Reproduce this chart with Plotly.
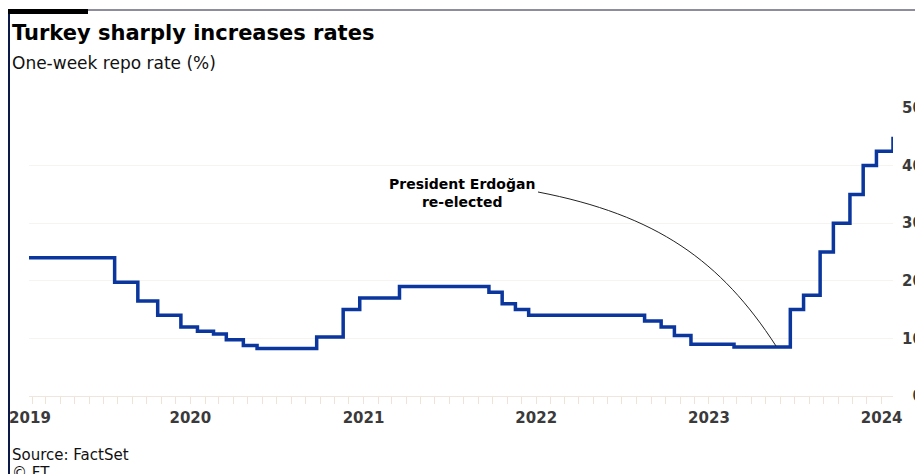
import plotly.graph_objects as go

# ---- data: one-week repo rate (%) at each decision date ----
dates = ["2019-01-25", "2019-07-25", "2019-09-12", "2019-10-24", "2019-12-12",
         "2020-01-16", "2020-02-19", "2020-03-17", "2020-04-22", "2020-05-21",
         "2020-09-24", "2020-11-19", "2020-12-24", "2021-03-18", "2021-09-23",
         "2021-10-21", "2021-11-18", "2021-12-16", "2022-08-18", "2022-09-22",
         "2022-10-20", "2022-11-24", "2023-02-23", "2023-06-22", "2023-07-20",
         "2023-08-24", "2023-09-21", "2023-10-26", "2023-11-23", "2023-12-21",
         "2024-01-25"]
rates = [24, 19.75, 16.5, 14, 12,
         11.25, 10.75, 9.75, 8.75, 8.25,
         10.25, 15, 17, 19, 18,
         16, 15, 14, 13, 12,
         10.5, 9, 8.5, 15, 17.5,
         25, 30, 35, 40, 42.5,
         45]
year_tickvals = ["2019-01-27", "2020-01-01", "2021-01-01", "2022-01-01", "2023-01-01", "2024-01-01"]
year_ticktext = ["2019", "2020", "2021", "2022", "2023", "2024"]
y_tickvals = [0, 10, 20, 30, 40, 50]
y_ticktext = ["\u20070", "10", "20", "30", "40", "50"]

# page draws the figure 8px in from the window corner
OFF = 8
W, H = 923 - OFF, 474 - OFF
# plot area in window pixels
SL, SR, ST, SB = 29, 893, 108, 396
L, R, T, B = SL - OFF, SR - OFF, ST - OFF, SB - OFF


def px(x):
    return (x - SL) / (SR - SL)


def py(y):
    return (SB - y) / (SB - ST)


FONT = "DejaVu Sans"

fig = go.Figure()
fig.add_trace(go.Scatter(
    x=dates, y=rates, mode="lines", line_shape="hv",
    line=dict(color="#0a369d", width=3.5), hoverinfo="x+y", showlegend=False))

tick_font = dict(family=FONT, size=15, color="#3a3a3a", weight=700)

fig.update_layout(
    template="none",
    width=W, height=H,
    margin=dict(l=L, r=W - R, t=T, b=H - B, pad=0, autoexpand=False),
    paper_bgcolor="white", plot_bgcolor="white",
    xaxis=dict(
        type="date", range=["2019-01-25", "2024-01-25"], automargin=False,
        tickvals=year_tickvals, ticktext=year_ticktext,
        ticks="", showgrid=False, zeroline=False,
        showline=True, linecolor="#f0e6de", linewidth=1,
        tickfont=tick_font, ticklabelstandoff=8,
        minor=dict(dtick="M1", tick0="2019-01-01", ticks="outside",
                   ticklen=7, tickcolor="#efe2d8", tickwidth=1, showgrid=False),
    ),
    yaxis=dict(
        side="right", range=[0, 50], automargin=False,
        tickvals=y_tickvals, ticktext=y_ticktext,
        showgrid=True, gridcolor="#f6f3f0", gridwidth=1,
        zeroline=False, showline=False,
        ticks="outside", ticklen=5, tickcolor="rgba(0,0,0,0)",
        tickfont=tick_font,
    ),
)

annos = [
    dict(text="Turkey sharply increases rates", x=px(10), y=py(33),
         font=dict(family=FONT, size=21, color="#000000", weight=700)),
    dict(text="One-week repo rate (%)", x=px(10), y=py(63),
         font=dict(family=FONT, size=17, color="#111111")),
    dict(text="Source: FactSet", x=px(10), y=py(455),
         font=dict(family=FONT, size=15, color="#111111")),
    dict(text="© FT", x=px(10), y=py(473),
         font=dict(family=FONT, size=15, color="#111111")),
]
for a in annos:
    a.update(xref="paper", yref="paper", xanchor="left", yanchor="middle",
             showarrow=False)
    fig.add_annotation(**a)

fig.add_annotation(
    text="President Erdoğan<br>re-elected", xref="paper", yref="paper",
    x=px(462), y=py(193), xanchor="center", yanchor="middle", align="center",
    showarrow=False,
    font=dict(family=FONT, size=14, color="#000000", weight=700))

# connector curve (window pixels -> paper)
p0, p1, p2, p3 = (538, 192), (657, 215), (721, 261), (776, 346)
path = "M {},{} C {},{} {},{} {},{}".format(
    px(p0[0]), py(p0[1]), px(p1[0]), py(p1[1]),
    px(p2[0]), py(p2[1]), px(p3[0]), py(p3[1]))
fig.add_shape(type="path", path=path, xref="paper", yref="paper",
              line=dict(color="#222222", width=1))

# frame decorations
fig.add_shape(type="line", xref="paper", yref="paper",
              x0=px(9), x1=px(9), y0=py(9), y1=py(480),
              line=dict(color="#0b1a4a", width=2))
fig.add_shape(type="line", xref="paper", yref="paper",
              x0=px(8), x1=px(930), y0=py(10), y1=py(10),
              line=dict(color="#1a1a3a", width=1))
fig.add_shape(type="rect", xref="paper", yref="paper",
              x0=px(8), x1=px(88), y0=py(9), y1=py(14),
              line=dict(width=0), fillcolor="#000000")

fig.write_html("out.html")
